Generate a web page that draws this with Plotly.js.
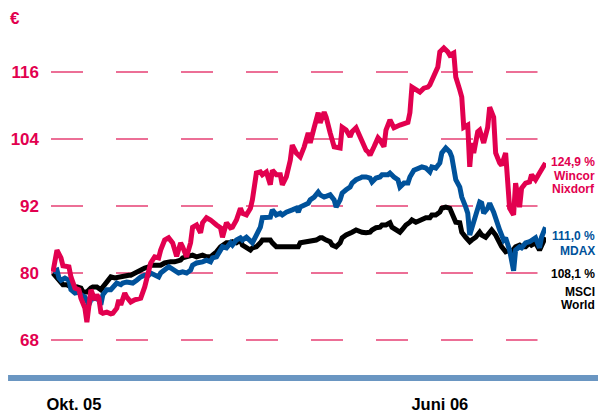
<!DOCTYPE html>
<html>
<head>
<meta charset="utf-8">
<script src="https://cdn.plot.ly/plotly-3.0.1.min.js"></script>
<style>html,body{margin:0;padding:0;background:#fff;}#chart{width:598px;height:414px;}</style>
</head>
<body>
<div id="chart"></div>
<script>
// ---- Data (trading-day index from Oct 05, index value in €) ----
const wincorDay = [0,2,4,5,8,9,11,13,14,16,17,18,19,21,22,23,24,25,27,29,30,32,33,34,36,37,39,41,44,46,48,49,51,53,54,56,58,60,62,64,65,67,69,70,72,74,75,77,79,80,82,84,85,87,89,90,92,94,95,97,99,100,101,102,104,105,107,109,110,112,114,115,117,119,120,122,124,126,128,129,131,133,134,136,137,138,139,141,144,145,147,149,150,152,154,155,157,158,159,161,163,164,166,167,169,171,173,174,178,179,180,182,184,186,188,189,191,193,194,196,198,199,201,202,204,205,206,208,209,210,211,213,214,216,218,219,221,222,224,225,227,228,229,231,232,234,235,237,239,240,242,244,245,247];
const wincorValue = [80.2,84.1,82.7,81.3,81.1,79.3,77.3,77.0,75.5,73.7,71.2,74.6,77.0,75.2,76.1,75.5,73.0,72.8,73.0,72.7,72.8,73.7,75.2,74.3,76.4,75.7,74.8,75.2,75.5,77.5,80.0,81.8,82.9,82.7,84.1,85.9,86.3,85.4,83.0,85.4,84.7,82.9,85.4,88.2,88.6,87.2,89.0,89.9,89.5,89.1,88.6,88.1,86.4,89.0,88.1,88.2,89.5,91.6,90.7,90.4,91.6,93.1,96.1,97.9,98.1,97.6,98.1,95.8,98.4,97.6,97.6,95.8,97.2,100.2,102.9,101.5,100.8,102.6,105.1,103.3,106.1,108.7,106.9,108.8,107.9,106.1,105.1,102.6,102.4,106.1,105.6,104.4,105.3,106.0,104.4,103.3,102.0,101.7,101.1,102.6,104.2,103.8,102.6,105.6,107.4,106.0,106.5,106.5,107.0,108.7,113.3,112.8,112.4,113.1,113.3,113.7,115.1,116.9,119.6,120.3,119.6,119.0,119.4,115.1,112.8,111.5,106.1,106.5,99.0,103.3,101.5,105.3,105.6,103.3,106.1,109.7,107.9,101.5,99.7,99.3,101.5,97.2,91.6,90.4,96.1,91.8,95.2,96.1,96.3,97.6,96.7,97.9,98.4,99.7];

const mdaxDay = [0,2,3,4,6,8,9,11,13,14,16,18,19,21,23,24,25,27,29,30,32,34,35,37,39,40,42,44,46,48,49,51,53,54,56,58,59,61,63,65,67,69,70,72,74,75,77,79,80,82,84,85,87,89,90,92,94,95,97,99,100,102,104,105,107,109,110,112,114,115,117,119,120,122,123,124,126,128,129,131,133,134,136,138,139,141,142,144,145,147,149,150,152,154,155,157,159,160,162,164,165,168,169,171,173,174,176,178,179,181,183,185,187,189,190,192,194,195,197,199,200,202,204,205,207,208,209,211,213,214,215,216,218,219,221,223,224,226,227,229,230,231,232,234,235,237,239,240,242,244,245,247];
const mdaxValue = [80.2,80.5,79.1,78.7,79.1,78.7,77.0,76.4,76.6,76.1,75.7,74.3,75.2,75.5,75.2,74.3,76.1,77.0,77.0,77.5,78.2,77.9,78.2,78.4,78.4,78.2,78.7,79.3,79.6,79.6,80.0,79.6,79.3,80.0,80.5,81.1,80.9,80.4,80.0,80.2,80.0,80.5,81.4,81.8,81.8,82.0,82.3,82.0,82.7,82.9,84.1,84.7,84.5,85.4,85.0,85.9,86.3,85.9,86.4,85.9,85.4,86.8,88.2,89.9,90.0,90.0,91.3,90.4,90.7,90.4,90.9,91.3,91.3,91.6,90.9,91.8,92.2,92.5,93.1,93.6,94.5,94.0,93.6,94.0,94.0,93.1,91.8,93.1,94.3,94.9,95.4,96.1,96.7,97.0,97.2,97.2,97.0,96.3,97.0,97.2,97.6,97.6,97.9,97.2,96.7,95.4,96.1,96.1,97.2,98.4,98.8,99.0,98.8,98.1,99.0,98.8,99.7,101.5,102.4,101.7,100.8,96.7,95.4,93.6,91.8,90.7,86.8,89.0,91.3,92.7,92.5,90.7,91.6,92.5,90.9,88.2,87.7,85.9,86.3,84.1,82.3,80.4,84.1,84.7,84.5,85.4,85.6,85.9,86.3,84.5,86.4,88.2];

const msciDay = [0,2,4,5,7,9,10,12,14,15,17,19,20,22,24,25,27,29,31,33,35,38,39,41,44,46,48,49,52,54,56,58,59,61,64,65,67,69,70,72,74,75,77,79,80,82,84,85,87,89,90,92,94,95,97,99,100,102,104,105,107,109,110,112,114,115,117,119,120,122,123,124,127,129,132,134,135,137,139,140,142,144,145,147,149,150,152,154,155,157,159,160,162,164,165,167,169,170,172,174,175,177,179,180,182,184,186,187,189,190,192,194,195,197,199,200,202,204,205,207,209,210,212,214,215,217,219,220,222,224,225,227,229,230,232,234,235,237,239,240,242,244,245,247];
const msciValue = [80.0,79.1,78.2,77.9,77.9,77.5,77.3,77.5,77.3,76.6,76.6,77.3,77.5,77.5,77.0,77.5,78.4,79.3,79.1,79.3,79.3,79.6,79.6,80.0,80.5,80.9,81.1,81.4,81.4,81.4,81.8,82.0,82.0,82.0,82.3,82.7,82.9,82.9,83.2,82.9,83.2,83.2,82.9,82.9,83.2,83.8,84.7,85.0,85.4,85.4,85.6,85.4,85.9,85.0,84.5,84.1,84.5,84.7,85.4,85.9,85.9,85.9,85.4,84.7,84.7,84.7,84.5,84.7,84.5,84.7,84.7,85.4,85.6,85.9,85.9,86.3,86.3,85.9,85.6,85.0,84.7,85.4,86.3,86.8,87.3,87.3,87.7,87.3,87.3,87.2,87.3,87.7,88.1,88.2,88.6,88.6,89.0,88.2,87.7,87.3,87.7,88.6,89.1,89.5,89.1,89.5,89.9,89.9,89.9,90.4,90.4,90.9,91.6,91.8,91.6,90.7,89.1,89.0,87.3,86.4,85.6,85.9,86.4,87.3,86.8,86.4,87.2,87.7,86.8,85.4,84.7,83.8,84.1,83.8,84.7,85.0,84.7,84.7,85.4,85.0,85.4,84.1,85.0,86.4];

const yTickValues = [68, 80, 92, 104, 116];
const yTickLabels = ['68', '80', '92', '104', '116'];
const xTickDays = [10.5, 194];
const xTickLabels = ['Okt. 05', 'Juni 06'];
const currencyLabel = '€';
const seriesNames = ['MSCI World', 'MDAX', 'Wincor Nixdorf'];
const endLabelLines = [['124,9 %', 'Wincor', 'Nixdorf'], ['111,0 %', 'MDAX'], ['108,1 %', 'MSCI', 'World']];

// ---- Styling / layout ----
const RED = '#e2004f', BLUE = '#00529b', BLACK = '#000000';
const W = 598, H = 414;
const M = {l: 51, r: 51.5, t: 30, b: 54};
const plotW = W - M.l - M.r, plotH = H - M.t - M.b;
const px2x = x => (x - M.l) / plotW;
const px2y = y => (H - M.b - y) / plotH;
const FONT = 'Liberation Sans, Arial, Helvetica, sans-serif';

const traces = [
  {x: msciDay, y: msciValue, name: seriesNames[0], color: BLACK},
  {x: mdaxDay, y: mdaxValue, name: seriesNames[1], color: BLUE},
  {x: wincorDay, y: wincorValue, name: seriesNames[2], color: RED}
].map(s => ({
  type: 'scatter', mode: 'lines', x: s.x, y: s.y, name: s.name,
  line: {color: s.color, width: 5, shape: 'linear'}, hoverinfo: 'skip'
}));

const shapes = yTickValues.map(v => ({
  type: 'line', xref: 'paper', yref: 'y', x0: 0, x1: px2x(538), y0: v, y1: v,
  line: {color: '#ec6f96', width: 2, dash: '32px,33px'}, layer: 'below'
}));
shapes.push({
  type: 'rect', xref: 'paper', yref: 'paper',
  x0: px2x(8), x1: px2x(600), y0: px2y(381), y1: px2y(375),
  line: {width: 0}, fillcolor: '#6a96c2'
});

const labelColors = [RED, BLUE, BLACK];
const labelYs = [[162, 176, 189.5], [236, 251], [274, 291.5, 305]];
const annotations = [{
  text: currencyLabel, xref: 'paper', yref: 'paper', x: px2x(14.5), y: px2y(19),
  xanchor: 'center', yanchor: 'middle', showarrow: false,
  font: {family: FONT, size: 17, weight: 'bold', color: RED}
}];
endLabelLines.forEach((lines, i) => {
  lines.forEach((t, j) => {
    annotations.push({
      text: t, xref: 'paper', yref: 'paper', x: px2x(597), y: px2y(labelYs[i][j]),
      xanchor: 'right', yanchor: 'middle', showarrow: false, borderpad: 0,
      font: {family: FONT, size: 12, weight: 'bold', color: labelColors[i]}
    });
  });
});

const layout = {
  width: W, height: H, margin: M,
  paper_bgcolor: '#fff', plot_bgcolor: '#fff', showlegend: false,
  xaxis: {
    range: [-1, 247.25], showgrid: false, zeroline: false, showline: false,
    tickmode: 'array', tickvals: xTickDays, ticktext: xTickLabels, ticks: '',
    ticklabelstandoff: 32,
    tickfont: {family: FONT, size: 16.5, weight: 'bold', color: BLACK}
  },
  yaxis: {
    range: [64.42, 123.52], showgrid: false, zeroline: false, showline: false,
    tickmode: 'array', tickvals: yTickValues, ticktext: yTickLabels, ticks: '',
    ticklabelstandoff: 11,
    tickfont: {family: FONT, size: 17, weight: 'bold', color: RED}
  },
  shapes: shapes, annotations: annotations
};

Plotly.newPlot('chart', traces, layout, {staticPlot: true, displayModeBar: false});
</script>
</body>
</html>
